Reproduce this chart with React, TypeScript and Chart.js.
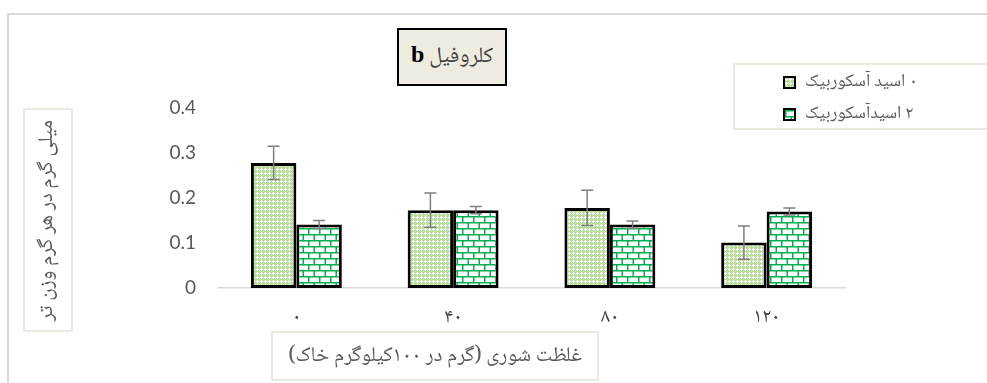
import React, { useEffect, useRef, useMemo } from "react";
import { Chart, registerables } from "chart.js";

Chart.register(...registerables);

const categories = ["۰", "۴۰", "۸۰", "۱۲۰"];
const seriesNames = ["۰ اسید آسکوربیک", "۲ اسیدآسکوربیک"];
const ascorbic0 = [0.278, 0.173, 0.178, 0.101];
const ascorbic0Err = [0.037, 0.038, 0.039, 0.037];
const ascorbic2 = [0.141, 0.173, 0.141, 0.17];
const ascorbic2Err = [0.009, 0.008, 0.008, 0.008];
const yTickLabels = ["0", "0.1", "0.2", "0.3", "0.4"];
const chartTitle = "کلروفیل";
const chartTitleLatin = "b";
const xTitle = "غلظت شوری (گرم در ۱۰۰کیلوگرم خاک)";
const yTitle = "میلی گرم در هر گرم وزن تر";

const persianFont = '"Noto Naskh Arabic", "Noto Sans Arabic", "DejaVu Sans", serif';

function makeTile(kind: "dots" | "brick"): HTMLCanvasElement {
  const c = document.createElement("canvas");
  if (kind === "dots") {
    c.width = 4;
    c.height = 4;
    const g = c.getContext("2d")!;
    g.fillStyle = "#b9de9e";
    g.fillRect(0, 0, 4, 4);
    g.fillStyle = "#ffffff";
    g.fillRect(1, 0, 1, 3);
    g.fillRect(0, 1, 3, 1);
  } else {
    c.width = 11;
    c.height = 12;
    const g = c.getContext("2d")!;
    g.fillStyle = "#ffffff";
    g.fillRect(0, 0, 11, 12);
    g.fillStyle = "#00b050";
    g.fillRect(0, 0, 11, 1.5);
    g.fillRect(0, 6, 11, 1.5);
    g.fillRect(0, 1, 1.5, 5);
    g.fillRect(5.5, 7, 1.5, 5);
  }
  return c;
}

const errorBarPlugin = {
  id: "errorBars",
  afterDatasetsDraw(chart: any) {
    const ctx = chart.ctx;
    const yScale = chart.scales.y;
    const errs = [ascorbic0Err, ascorbic2Err];
    ctx.save();
    ctx.strokeStyle = "#7f7f7f";
    ctx.lineWidth = 1.5;
    chart.data.datasets.forEach((ds: any, di: number) => {
      const meta = chart.getDatasetMeta(di);
      meta.data.forEach((el: any, i: number) => {
        const v = ds.data[i];
        const e = errs[di][i];
        const yTop = yScale.getPixelForValue(v + e);
        const yBot = yScale.getPixelForValue(v - e);
        const x = el.x;
        ctx.beginPath();
        ctx.moveTo(x, yTop);
        ctx.lineTo(x, yBot);
        ctx.moveTo(x - 6, yTop);
        ctx.lineTo(x + 6, yTop);
        ctx.moveTo(x - 6, yBot);
        ctx.lineTo(x + 6, yBot);
        ctx.stroke();
      });
    });
    ctx.restore();
  },
};

export default function App() {
  const canvasRef = useRef<HTMLCanvasElement | null>(null);

  const swatches = useMemo(() => {
    return [makeTile("dots").toDataURL(), makeTile("brick").toDataURL()];
  }, []);

  useEffect(() => {
    const canvas = canvasRef.current!;
    const ctx = canvas.getContext("2d")!;
    const p1 = ctx.createPattern(makeTile("dots"), "repeat")!;
    const p2 = ctx.createPattern(makeTile("brick"), "repeat")!;
    const chart = new Chart(canvas, {
      type: "bar",
      data: {
        labels: categories,
        datasets: [
          {
            label: seriesNames[0],
            data: ascorbic0,
            backgroundColor: p1 as any,
            borderColor: "#000000",
            borderWidth: 3,
            borderSkipped: false,
            categoryPercentage: 0.58,
            barPercentage: 1,
          },
          {
            label: seriesNames[1],
            data: ascorbic2,
            backgroundColor: p2 as any,
            borderColor: "#000000",
            borderWidth: 3,
            borderSkipped: false,
            categoryPercentage: 0.58,
            barPercentage: 1,
          },
        ],
      },
      options: {
        animation: false,
        responsive: false,
        maintainAspectRatio: false,
        layout: { padding: { left: 0, top: 108, right: 142, bottom: 0 } },
        plugins: {
          legend: { display: false },
          title: { display: false },
          tooltip: { enabled: false },
        },
        scales: {
          x: {
            grid: { display: false, drawTicks: false },
            border: { display: true, color: "#d9d9d9", width: 1.5 },
            ticks: {
              padding: 19,
              color: "#404040",
              font: { family: persianFont, size: 20 },
            },
            afterFit: (scale: any) => {
              scale.height = 95;
            },
          },
          y: {
            min: 0,
            max: 0.4,
            grid: { display: false, drawTicks: false },
            border: { display: false },
            ticks: {
              stepSize: 0.1,
              padding: 22,
              color: "#595959",
              font: { family: "Lato, 'Liberation Sans', sans-serif", size: 19 },
              callback: (_v: any, i: number) => yTickLabels[i],
            },
            afterFit: (scale: any) => {
              scale.width = 218;
            },
          },
        },
      },
      plugins: [errorBarPlugin],
    });
    return () => chart.destroy();
  }, []);

  const box = (extra: React.CSSProperties): React.CSSProperties => ({
    position: "absolute",
    boxSizing: "border-box",
    display: "flex",
    alignItems: "center",
    justifyContent: "center",
    ...extra,
  });

  return (
    <div
      style={{
        position: "fixed",
        left: 0,
        top: 0,
        width: 987,
        height: 383,
        overflow: "hidden",
        background: "#ffffff",
      }}
    >
      <div
        style={{
          position: "absolute",
          left: 7,
          top: 13,
          width: 1000,
          height: 400,
          border: "2px solid #d9d9d9",
          boxSizing: "border-box",
        }}
      />
      <canvas
        ref={canvasRef}
        width={987}
        height={383}
        style={{ position: "absolute", left: 0, top: 0, width: 987, height: 383 }}
      />
      <div
        style={box({
          left: 397,
          top: 28,
          width: 110,
          height: 58,
          background: "#eeece1",
          border: "2px solid #000",
          fontFamily: persianFont,
          fontSize: 22,
          color: "#404040",
        })}
      >
        <span dir="rtl">
          {chartTitle}{" "}
          <b style={{ fontFamily: "'Liberation Serif', serif", color: "#000", fontSize: 24 }}>
            {chartTitleLatin}
          </b>
        </span>
      </div>
      <div
        style={{
          position: "absolute",
          left: 733,
          top: 63,
          width: 270,
          height: 67,
          border: "2px solid #ebe9e0",
          boxSizing: "border-box",
          fontFamily: persianFont,
          fontSize: 18,
          color: "#595959",
        }}
      >
        {seriesNames.map((n, i) => (
          <div
            key={i}
            style={{
              position: "absolute",
              left: 48,
              top: 6 + i * 32,
              height: 22,
              display: "flex",
              alignItems: "center",
              whiteSpace: "nowrap",
            }}
          >
            <div
              style={{
                width: 13,
                height: 13,
                boxSizing: "border-box",
                border: "2px solid #000",
                backgroundImage: `url(${swatches[i]})`,
                marginRight: 9,
              }}
            />
            <span dir="rtl">{n}</span>
          </div>
        ))}
      </div>
      <div
        style={box({
          left: 23,
          top: 108,
          width: 50,
          height: 224,
          border: "2px solid #ebe9e0",
        })}
      >
        <div
          dir="rtl"
          style={{
            transform: "rotate(-90deg)",
            whiteSpace: "nowrap",
            fontFamily: persianFont,
            fontSize: 21,
            color: "#595959",
          }}
        >
          {yTitle}
        </div>
      </div>
      <div
        style={box({
          left: 271,
          top: 331,
          width: 328,
          height: 50,
          border: "2px solid #ebe9e0",
          fontFamily: persianFont,
          fontSize: 21,
          color: "#595959",
        })}
      >
        <span dir="rtl">{xTitle}</span>
      </div>
    </div>
  );
}
